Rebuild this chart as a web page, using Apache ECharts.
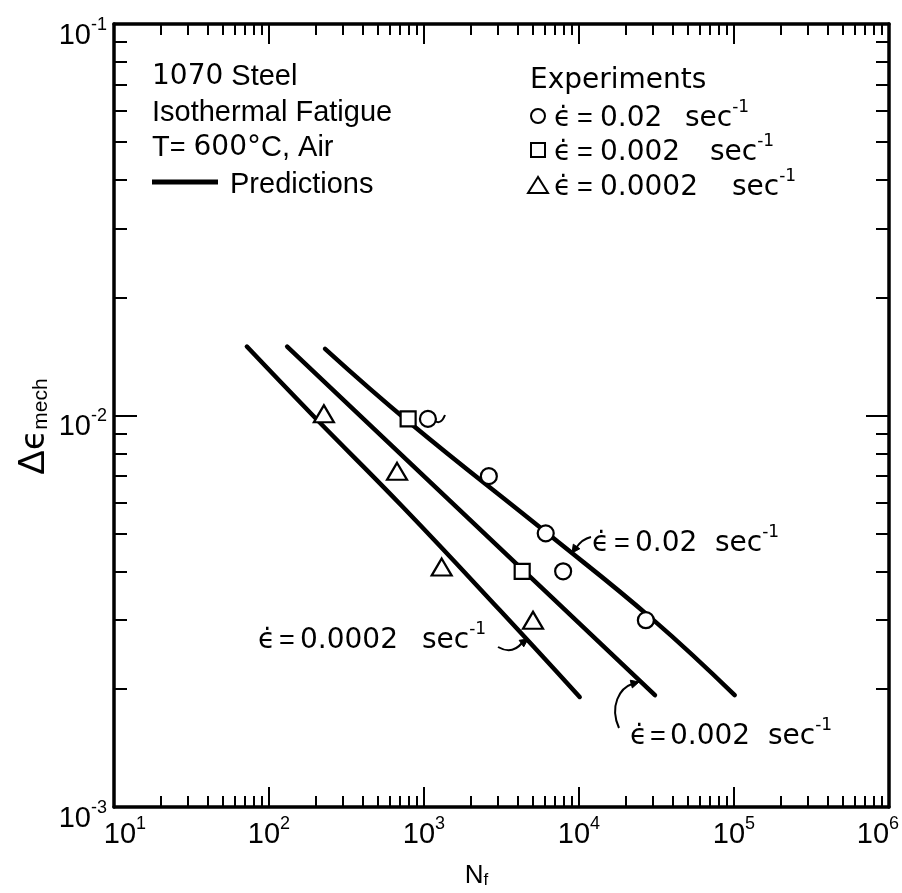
<!DOCTYPE html>
<html>
<head>
<meta charset="utf-8">
<script src="https://cdn.jsdelivr.net/npm/echarts@6/dist/echarts.min.js"></script>
<style>
  html, body { margin: 0; padding: 0; background: #fff; }
  #chart { width: 902px; height: 893px; }
</style>
</head>
<body>
<div id="chart"></div>
<script>
// ---- Data: isothermal fatigue of 1070 steel at 600 °C ----
// Predicted life curves (N_f, Δε_mech) for each strain rate
const predNf_0p02   = [230, 813, 6220, 30000, 101000];
const predDe_0p02   = [0.0148, 0.00957, 0.00501, 0.00301, 0.00193];
const predNf_0p002  = [131, 4355, 30900];
const predDe_0p002  = [0.0150, 0.00403, 0.00193];
const predNf_0p0002 = [72, 192, 733, 3090, 10100];
const predDe_0p0002 = [0.0150, 0.0100, 0.00583, 0.00318, 0.00191];

// Experimental points
const expNf_0p02   = [1060, 2620, 6100, 7900, 27000];
const expDe_0p02   = [0.0098, 0.0070, 0.0050, 0.0040, 0.0030];
const expNf_0p002  = [790, 4300];
const expDe_0p002  = [0.0098, 0.0040];
const expNf_0p0002 = [226, 670, 1300, 5050];
const expDe_0p0002 = [0.0101, 0.0072, 0.0041, 0.0030];

// Decade exponents used for the tick labels, and the minor tick multipliers
const xDecades = [1, 2, 3, 4, 5, 6];
const yDecades = [-3, -2, -1];
const minorMultipliers = [2, 3, 4, 5, 6, 7, 8, 9];

const FONT = 'Liberation Sans';
const WIDE = 'DejaVu Sans';
const INK = '#000';

function pairs(xs, ys) { return xs.map((x, i) => [x, ys[i]]); }
function minorExps(decades) {
  const out = [];
  for (let i = 0; i < decades.length - 1; i++) {
    minorMultipliers.forEach(m => out.push(decades[i] + Math.log10(m)));
  }
  return out;
}
const xMinor = minorExps(xDecades);
const yMinor = minorExps(yDecades);

const supLabelRich = {
  b: { fontFamily: FONT, fontSize: 29, color: INK, lineHeight: 34, verticalAlign: 'bottom' },
  s: { fontFamily: FONT, fontSize: 18, color: INK, lineHeight: 34, verticalAlign: 'top' },
  gap: { width: 22, lineHeight: 34 }
};
// first and last bottom labels sit slightly off-centre
function xDecadeLabel(v) {
  const e = Math.round(v);
  const core = '{b|10}{s|' + e + '}';
  if (e === xDecades[0]) return '{gap|}' + core;
  if (e === xDecades[xDecades.length - 1]) return core + '{gap|}';
  return core;
}
function yDecadeLabel(v) { return '{b|10}{s|' + Math.round(v) + '}'; }

// Exponent-space axes that carry the frame, ticks and labels
function xFrameAxis(position, values, len, showLine, showLabels, extra) {
  return Object.assign({
    type: 'value', gridIndex: 0, position: position, min: 1, max: 6, interval: 1,
    axisLine: { show: showLine, onZero: false, lineStyle: { color: INK, width: 3.5 } },
    axisTick: { show: true, inside: true, length: len, customValues: values,
                lineStyle: { color: INK, width: 2 } },
    axisLabel: showLabels ? {
      show: true, margin: 8, formatter: xDecadeLabel, rich: supLabelRich,
      showMinLabel: true, showMaxLabel: true, hideOverlap: false
    } : { show: false },
    splitLine: { show: false }
  }, extra || {});
}
function yFrameAxis(position, values, len, showLine, showLabels, extra) {
  return Object.assign({
    type: 'value', gridIndex: 0, position: position, min: -3, max: -1, interval: 1,
    axisLine: { show: showLine, onZero: false, lineStyle: { color: INK, width: 3.5 } },
    axisTick: { show: true, inside: true, length: len, customValues: values,
                lineStyle: { color: INK, width: 2 } },
    axisLabel: showLabels ? {
      show: true, margin: 7, formatter: yDecadeLabel, rich: supLabelRich,
      padding: [18, 0, 0, 0],
      showMinLabel: true, showMaxLabel: true, hideOverlap: false
    } : { show: false },
    splitLine: { show: false }
  }, extra || {});
}

const predLine = (name, xs, ys) => ({
  name: name, type: 'line', xAxisIndex: 0, yAxisIndex: 0,
  data: pairs(xs, ys), smooth: 0.45,
  showSymbol: false, symbol: 'none', silent: true, z: 3,
  lineStyle: { color: INK, width: 4.5, cap: 'round', join: 'round' }
});
const expPoints = (name, xs, ys, symbol, size) => ({
  name: name, type: 'scatter', xAxisIndex: 0, yAxisIndex: 0,
  data: pairs(xs, ys), symbol: symbol, symbolSize: size, z: 5,
  itemStyle: { color: '#fff', borderColor: INK, borderWidth: 2.2, opacity: 1 }
});

// Annotation text: t = narrow lettering, d = wide lettering (digits, ϵ̇), s = superscript
const textRich = {
  t: { fontFamily: FONT, fontSize: 29, color: INK, lineHeight: 34, verticalAlign: 'bottom' },
  d: { fontFamily: WIDE, fontSize: 28, color: INK, lineHeight: 34, verticalAlign: 'bottom' },
  q: { fontFamily: FONT, fontSize: 27, color: INK, lineHeight: 34, verticalAlign: 'bottom' },
  s: { fontFamily: WIDE, fontSize: 17, color: INK, lineHeight: 34, verticalAlign: 'top' }
};
function txt(x, y, tokens) {
  return {
    type: 'text', x: x, y: y, z: 10,
    style: {
      text: tokens, fontFamily: FONT, fontSize: 28, fill: INK,
      verticalAlign: 'middle', align: 'left', rich: textRich
    }
  };
}
const wide = (x, y, s) => txt(x, y, '{d|' + s + '}');
const equals = (x, y) => txt(x, y, '{q|=}');
const perSec = (x, y) => txt(x, y, '{d|sec}{s|-1}');
// "ϵ̇ = value sec⁻¹" laid out piece by piece
function rateText(xEps, xEq, xVal, xSec, y, value) {
  return [wide(xEps, y, 'ϵ̇'), equals(xEq, y), wide(xVal, y, value), perSec(xSec, y)];
}
function arrowHead(tx, ty, angleDeg, len, half) {
  const a = angleDeg * Math.PI / 180, c = Math.cos(a), s = Math.sin(a);
  const bx = tx - len * c, by = ty - len * s;
  return {
    type: 'polygon', z: 10,
    shape: { points: [[tx, ty], [bx - half * s, by + half * c], [bx + half * s, by - half * c]] },
    style: { fill: INK, stroke: INK, lineWidth: 1 }
  };
}
const stroke = { stroke: INK, lineWidth: 2, fill: null };

const chart = echarts.init(document.getElementById('chart'), null, { renderer: 'canvas' });

chart.setOption({
  backgroundColor: '#fff',
  animation: false,
  grid: { left: 114, right: 13, top: 24, bottom: 86, containLabel: false, outerBoundsMode: 'none' },
  xAxis: [
    { type: 'log', logBase: 10, min: 10, max: 1e6, show: false, gridIndex: 0 },
    xFrameAxis('bottom', xDecades, 20, true, true, {
      name: '{n|N}{f|f}', nameLocation: 'middle', nameGap: 52, nameMoveOverlap: false,
      nameTextStyle: {
        padding: [0, 50, 0, 0],
        rich: {
          n: { fontFamily: FONT, fontSize: 26, color: INK, lineHeight: 30, verticalAlign: 'bottom' },
          f: { fontFamily: FONT, fontSize: 17, color: INK, lineHeight: 24, verticalAlign: 'bottom' }
        }
      }
    }),
    xFrameAxis('bottom', xMinor, 11, false, false),
    xFrameAxis('top', xDecades, 20, true, false),
    xFrameAxis('top', xMinor, 11, false, false)
  ],
  yAxis: [
    { type: 'log', logBase: 10, min: 1e-3, max: 1e-1, show: false, gridIndex: 0 },
    yFrameAxis('left', yDecades, 23, true, true, {
      name: '{a|Δ}{e|ϵ}{m|mech}', nameLocation: 'middle', nameRotate: 90, nameGap: 62,
      nameMoveOverlap: false,
      nameTextStyle: {
        padding: [0, 22, 0, 0],
        rich: {
          a: { fontFamily: FONT, fontSize: 37, color: INK, lineHeight: 40, verticalAlign: 'bottom' },
          e: { fontFamily: WIDE, fontSize: 33, color: INK, lineHeight: 40, verticalAlign: 'bottom' },
          m: { fontFamily: FONT, fontSize: 21, color: INK, lineHeight: 30, verticalAlign: 'bottom' }
        }
      }
    }),
    yFrameAxis('left', yMinor, 13, false, false),
    yFrameAxis('right', yDecades, 23, true, false),
    yFrameAxis('right', yMinor, 13, false, false)
  ],
  series: [
    predLine('ϵ̇ = 0.02 sec-1', predNf_0p02, predDe_0p02),
    predLine('ϵ̇ = 0.002 sec-1', predNf_0p002, predDe_0p002),
    predLine('ϵ̇ = 0.0002 sec-1', predNf_0p0002, predDe_0p0002),
    expPoints('Exp 0.02', expNf_0p02, expDe_0p02, 'circle', 16),
    expPoints('Exp 0.002', expNf_0p002, expDe_0p002, 'rect', 15),
    expPoints('Exp 0.0002', expNf_0p0002, expDe_0p0002, 'triangle', [20, 17])
  ],
  graphic: [].concat(
    [
      // Specimen / test description
      txt(152, 74, '{d|1070}{t| Steel}'),
      txt(152, 110, '{t|Isothermal Fatigue}'),
      txt(152, 145, '{t|T}{q|=}{t| }{d|600°}{t|C, Air}'),
      { type: 'line', z: 10, shape: { x1: 152, y1: 182, x2: 218, y2: 182 },
        style: { stroke: INK, lineWidth: 5 } },
      txt(230, 182, '{t|Predictions}'),
      // Experiments key
      wide(530, 78, 'Experiments'),
      { type: 'circle', z: 10, shape: { cx: 538, cy: 116, r: 7 },
        style: { fill: '#fff', stroke: INK, lineWidth: 2 } },
      { type: 'rect', z: 10, shape: { x: 531, y: 143, width: 14, height: 14 },
        style: { fill: '#fff', stroke: INK, lineWidth: 2 } },
      { type: 'polygon', z: 10, shape: { points: [[538, 177], [528, 193], [548, 193]] },
        style: { fill: '#fff', stroke: INK, lineWidth: 2 } }
    ],
    rateText(554, 577, 600, 685, 116, '0.02'),
    rateText(554, 577, 600, 710, 150, '0.002'),
    rateText(554, 577, 600, 732, 185, '0.0002'),
    // Curve labels
    rateText(592, 614, 635, 715, 541, '0.02'),
    rateText(258, 279, 300, 422, 638, '0.0002'),
    rateText(630, 650, 670, 768, 734, '0.002'),
    [
      // Leader arrows
      { type: 'bezierCurve', z: 10,
        shape: { x1: 591, y1: 537, cpx1: 582, cpy1: 539, x2: 576, y2: 548 }, style: stroke },
      arrowHead(572, 553, 125, 8, 4),
      { type: 'bezierCurve', z: 10,
        shape: { x1: 498, y1: 647, cpx1: 512, cpy1: 655, x2: 522, y2: 643 }, style: stroke },
      arrowHead(528, 639, -35, 8, 4),
      { type: 'bezierCurve', z: 10,
        shape: { x1: 619, y1: 728, cpx1: 609, cpy1: 706, cpx2: 620, cpy2: 688, x2: 632, y2: 684 },
        style: stroke },
      arrowHead(639, 682, -15, 8, 4),
      { type: 'bezierCurve', z: 10,
        shape: { x1: 435, y1: 421, cpx1: 441, cpy1: 425, x2: 445, y2: 415 }, style: stroke }
    ]
  )
});
</script>
</body>
</html>
